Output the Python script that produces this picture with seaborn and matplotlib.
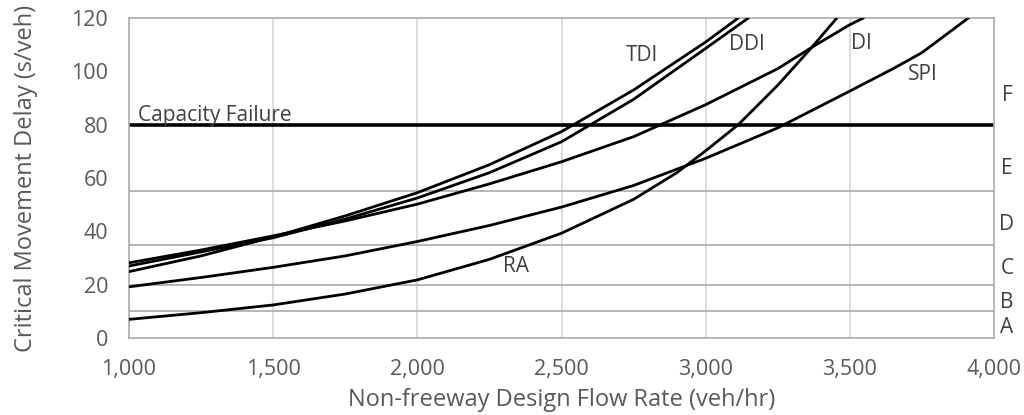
import seaborn as sns
import matplotlib.pyplot as plt
from matplotlib.ticker import FuncFormatter

# Flow rate (veh/hr) and delay (s/veh)
ra_flow = [1000, 1250, 1500, 1750, 2000, 2250, 2500, 2750, 2900, 3000, 3113, 3250, 3368, 3455]
ra_delay = [7.0, 9.5, 12.4, 16.5, 21.8, 29.5, 39.3, 52.0, 62.0, 70.2, 80.0, 94.8, 109.0, 120.0]

spi_flow = [1000, 1250, 1500, 1750, 2000, 2250, 2500, 2750, 3000, 3250, 3500, 3650, 3750, 3911]
spi_delay = [19.2, 22.7, 26.5, 30.8, 36.2, 42.2, 49.1, 57.2, 67.4, 78.8, 92.6, 101.0, 107.0, 120.0]

di_flow = [1000, 1250, 1500, 1750, 2000, 2250, 2500, 2750, 3000, 3250, 3368, 3500, 3547]
di_delay = [28.2, 33.0, 38.3, 43.9, 50.2, 57.8, 66.1, 75.5, 87.5, 101.0, 109.0, 117.5, 120.0]

ddi_flow = [1000, 1250, 1500, 1750, 2000, 2250, 2500, 2750, 3000, 3148]
ddi_delay = [27.0, 32.3, 37.6, 44.6, 52.5, 62.0, 73.6, 89.5, 108.6, 120.0]

tdi_flow = [1000, 1250, 1500, 1750, 2000, 2250, 2500, 2750, 3000, 3113]
tdi_delay = [24.9, 30.8, 37.9, 45.8, 54.5, 65.0, 77.4, 93.0, 111.0, 120.0]

capacity_delay = 80
los_thresholds = [10, 20, 35, 55]
los_letters = ['A', 'B', 'C', 'D', 'E', 'F']
los_label_y = [3.8, 13.5, 26.2, 42.7, 63.7, 91.1]

curve_labels = ['TDI', 'DDI', 'DI', 'SPI', 'RA']
curve_label_x = [2778, 3142, 3539, 3753, 2342]
curve_label_y = [105.9, 109.9, 110.5, 98.9, 27.0]

sns.set_style('white')
plt.rcParams['font.family'] = ['Open Sans', 'DejaVu Sans']

fig, ax = plt.subplots(figsize=(10.24, 4.15), dpi=100)
fig.subplots_adjust(left=0.126, right=0.9707, bottom=0.1855, top=0.9566)

# vertical grid at x ticks, horizontal lines at LOS thresholds
for x in range(1500, 4000, 500):
    ax.axvline(x, color='#d9d9d9', linewidth=1.3, zorder=0)
for t in los_thresholds:
    ax.axhline(t, color='#aaaaaa', linewidth=1.2, zorder=0)

ax.axhline(capacity_delay, color='black', linewidth=2.6, zorder=2)

for flow, delay in [(ra_flow, ra_delay), (spi_flow, spi_delay), (di_flow, di_delay),
                    (ddi_flow, ddi_delay), (tdi_flow, tdi_delay)]:
    sns.lineplot(x=flow, y=delay, color='black', linewidth=2.0, ax=ax, zorder=3)

text_color = '#404040'
for name, x, y in zip(curve_labels, curve_label_x, curve_label_y):
    ax.text(x, y, name, fontsize=15, color=text_color, ha='center', va='center')
ax.text(1030, 83.5, 'Capacity Failure', fontsize=15, color=text_color, ha='left', va='center')

for letter, y in zip(los_letters, los_label_y):
    ax.text(4045, y, letter, fontsize=15, color=text_color, ha='center', va='center', clip_on=False)

ax.set_xlim(1000, 4000)
ax.set_ylim(0, 120)
ax.set_xticks(range(1000, 4001, 500))
ax.set_yticks(range(0, 121, 20))
ax.xaxis.set_major_formatter(FuncFormatter(lambda v, p: f'{int(v):,}'))
ax.tick_params(axis='both', length=0, labelsize=15.5, labelcolor='#595959')
ax.tick_params(axis='x', pad=15)
ax.tick_params(axis='y', pad=15)

ax.set_xlabel('Non-freeway Design Flow Rate (veh/hr)', fontsize=17, color='#595959', labelpad=6)
ax.set_ylabel('Critical Movement Delay (s/veh)', fontsize=17, color='#595959', labelpad=24)

for side in ['left', 'bottom', 'top', 'right']:
    ax.spines[side].set_color('#aaaaaa')
    ax.spines[side].set_linewidth(1.2)
    ax.spines[side].set_visible(True)

plt.savefig('out.png', dpi=100)
